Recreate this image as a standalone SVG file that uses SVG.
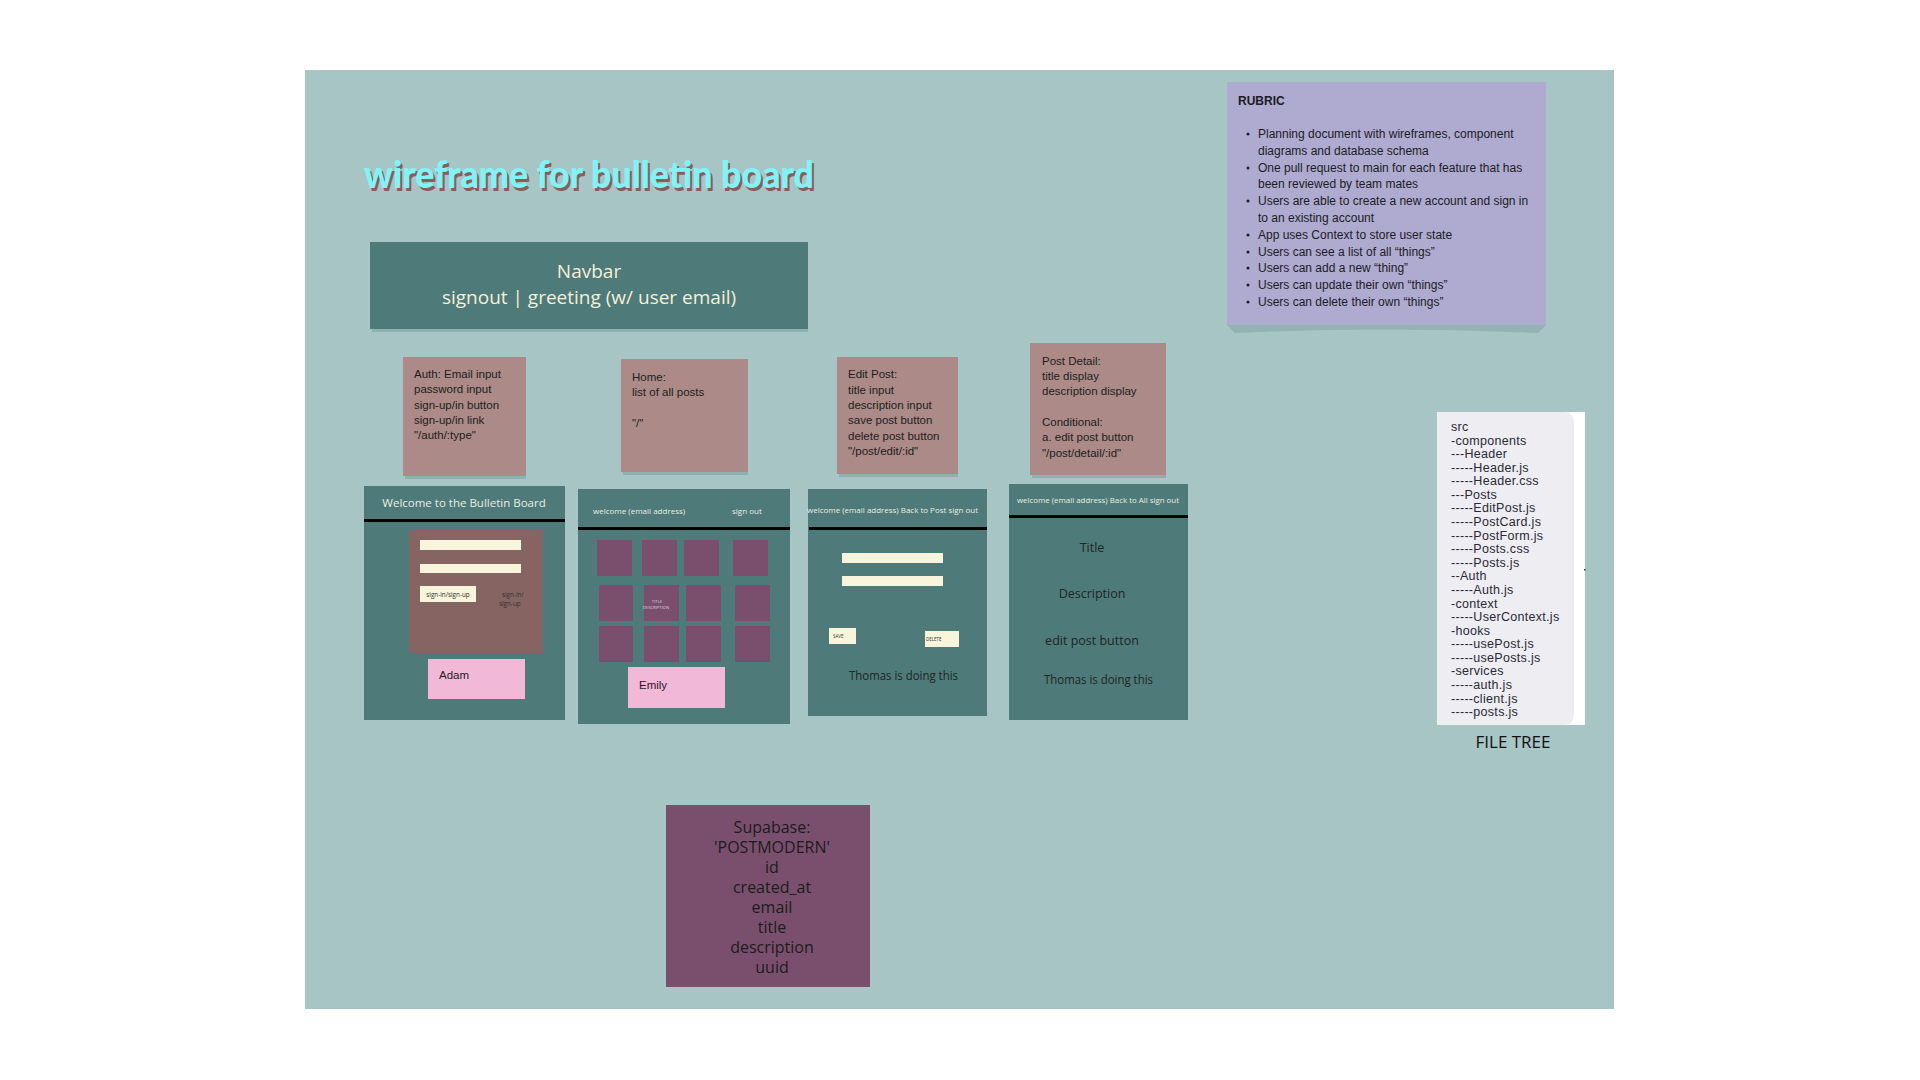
<svg xmlns="http://www.w3.org/2000/svg" width="1920" height="1080" viewBox="0 0 1920 1080">
<style>
.bg{fill:#a8c5c5}
.frame{fill:#4e7a79}
.note{fill:#ab8a87}
.cream{fill:#f8f5dc}
.pink{fill:#f2b8d8}
.purple{fill:#7a4f6d}
.bar{fill:#000}
.shadow{fill:#8fb0b0}
.nt{font-family:"Liberation Sans",Arial,sans-serif;font-size:11.5px;fill:#1e1e1e}
.os{font-family:"Open Sans","Liberation Sans",sans-serif}
.hdr{font-family:"Open Sans","Liberation Sans",sans-serif;font-size:8px;fill:#e9eee4}
.dark{font-family:"Open Sans","Liberation Sans",sans-serif;font-size:12.5px;fill:#1f2626}
.tree{font-family:"Liberation Sans",Arial,sans-serif;font-size:12.5px;letter-spacing:0.3px;fill:#2a2a35}
.rub{font-family:"Liberation Sans",Arial,sans-serif;font-size:12px;fill:#1c1c24}
</style>
<rect x="0" y="0" width="1920" height="1080" fill="#ffffff"/>
<rect class="bg" x="305" y="70" width="1309" height="939"/>

<g id="title">
<text x="366" y="191" font-family="Lato,'Open Sans',sans-serif" font-weight="900" font-size="37" fill="#8a5c5c" textLength="450" lengthAdjust="spacingAndGlyphs">wireframe for bulletin board</text>
<text x="364" y="188" font-family="Lato,'Open Sans',sans-serif" font-weight="900" font-size="37" fill="#80f3f6" textLength="450" lengthAdjust="spacingAndGlyphs">wireframe for bulletin board</text>
</g>

<g id="navbar">
<rect class="shadow" x="372" y="329" width="436" height="3"/>
<rect class="frame" x="370" y="242" width="438" height="87"/>
<text class="os" x="589" y="278" font-size="19" fill="#f5efd6" text-anchor="middle">Navbar</text>
<text class="os" x="589" y="304" font-size="19" fill="#f5efd6" text-anchor="middle">signout | greeting (w/ user email)</text>
</g>

<g id="rubric">
<path d="M1227 325 L1546 325 L1538 333 Q1386 326 1235 333 Z" fill="#93b2b3"/>
<rect x="1227" y="82" width="319" height="243" fill="#aeaad0"/>
<text class="rub" x="1238" y="105" font-weight="bold">RUBRIC</text>
<g class="rub">
<text x="1258" y="138">Planning document with wireframes, component</text>
<text x="1258" y="155">diagrams and database schema</text>
<text x="1258" y="172">One pull request to main for each feature that has</text>
<text x="1258" y="188">been reviewed by team mates</text>
<text x="1258" y="205">Users are able to create a new account and sign in</text>
<text x="1258" y="222">to an existing account</text>
<text x="1258" y="239">App uses Context to store user state</text>
<text x="1258" y="256">Users can see a list of all “things”</text>
<text x="1258" y="272">Users can add a new “thing”</text>
<text x="1258" y="289">Users can update their own “things”</text>
<text x="1258" y="306">Users can delete their own “things”</text>
</g>
<g fill="#1c1c24">
<circle cx="1248" cy="134" r="1.5"/><circle cx="1248" cy="168" r="1.5"/><circle cx="1248" cy="201" r="1.5"/><circle cx="1248" cy="235" r="1.5"/><circle cx="1248" cy="252" r="1.5"/><circle cx="1248" cy="268" r="1.5"/><circle cx="1248" cy="285" r="1.5"/><circle cx="1248" cy="302" r="1.5"/>
</g>
</g>

<g id="filetree">
<rect x="1437" y="412" width="148" height="313" fill="#ffffff"/>
<path d="M1437 412 L1564 412 Q1574 412 1574 424 L1574 713 Q1574 725 1564 725 L1437 725 Z" fill="#ededf2"/>
<g class="tree">
<text x="1451" y="431">src</text>
<text x="1451" y="445">-components</text>
<text x="1451" y="458">---Header</text>
<text x="1451" y="472">-----Header.js</text>
<text x="1451" y="485">-----Header.css</text>
<text x="1451" y="499">---Posts</text>
<text x="1451" y="512">-----EditPost.js</text>
<text x="1451" y="526">-----PostCard.js</text>
<text x="1451" y="540">-----PostForm.js</text>
<text x="1451" y="553">-----Posts.css</text>
<text x="1451" y="567">-----Posts.js</text>
<text x="1451" y="580">--Auth</text>
<text x="1451" y="594">-----Auth.js</text>
<text x="1451" y="608">-context</text>
<text x="1451" y="621">-----UserContext.js</text>
<text x="1451" y="635">-hooks</text>
<text x="1451" y="648">-----usePost.js</text>
<text x="1451" y="662">-----usePosts.js</text>
<text x="1451" y="675">-services</text>
<text x="1451" y="689">-----auth.js</text>
<text x="1451" y="703">-----client.js</text>
<text x="1451" y="716">-----posts.js</text>
</g>
<rect x="1584" y="569" width="1.5" height="1.5" fill="#333"/>
<text class="os" x="1513" y="748" font-size="17" fill="#111" text-anchor="middle">FILE TREE</text>
</g>

<g id="note-auth">
<rect class="shadow" x="405" y="476" width="121" height="3"/>
<rect class="note" x="403" y="357" width="123" height="119"/>
<g class="nt">
<text x="414" y="378">Auth: Email input</text>
<text x="414" y="393">password input</text>
<text x="414" y="409">sign-up/in button</text>
<text x="414" y="424">sign-up/in link</text>
<text x="414" y="439">"/auth/:type"</text>
</g>
</g>

<g id="note-home">
<rect class="shadow" x="623" y="472" width="125" height="3"/>
<rect class="note" x="621" y="359" width="127" height="113"/>
<g class="nt">
<text x="632" y="381">Home:</text>
<text x="632" y="396">list of all posts</text>
<text x="632" y="427">"/"</text>
</g>
</g>

<g id="note-edit">
<rect class="shadow" x="839" y="474" width="119" height="3"/>
<rect class="note" x="837" y="357" width="121" height="117"/>
<g class="nt">
<text x="848" y="378">Edit Post:</text>
<text x="848" y="394">title input</text>
<text x="848" y="409">description input</text>
<text x="848" y="424">save post button</text>
<text x="848" y="440">delete post button</text>
<text x="848" y="455">"/post/edit/:id"</text>
</g>
</g>

<g id="note-detail">
<rect class="shadow" x="1032" y="475" width="134" height="3"/>
<rect class="note" x="1030" y="343" width="136" height="132"/>
<g class="nt">
<text x="1042" y="365">Post Detail:</text>
<text x="1042" y="380">title display</text>
<text x="1042" y="395">description display</text>
<text x="1042" y="426">Conditional:</text>
<text x="1042" y="441">a. edit post button</text>
<text x="1042" y="457">"/post/detail/:id"</text>
</g>
</g>

<g id="wf-auth">
<rect class="frame" x="364" y="486" width="201" height="234"/>
<text class="os" x="464" y="507" font-size="11.5" fill="#e9eee4" text-anchor="middle">Welcome to the Bulletin Board</text>
<rect class="bar" x="364" y="519" width="201" height="3"/>
<rect x="409" y="530" width="134" height="123" fill="#866462"/>
<rect class="cream" x="420" y="540" width="101" height="10"/>
<rect class="cream" x="420" y="564" width="101" height="9"/>
<rect class="cream" x="420" y="586" width="56" height="16"/>
<text class="os" x="448" y="597" font-size="6.3" fill="#333" text-anchor="middle">sign-in/sign-up</text>
<text class="os" x="502" y="597" font-size="6.3" fill="#333">sign-in/</text>
<text class="os" x="499" y="606" font-size="6.3" fill="#333">sign-up</text>
<rect class="pink" x="428" y="659" width="97" height="40"/>
<text x="439" y="679" font-family="'Liberation Sans',Arial,sans-serif" font-size="11.5" fill="#1e1e1e">Adam</text>
</g>

<g id="wf-home">
<rect class="frame" x="578" y="489" width="212" height="235"/>
<text class="hdr" x="593" y="514">welcome (email address)</text>
<text class="hdr" x="732" y="514">sign out</text>
<rect class="bar" x="578" y="527" width="212" height="3"/>
<g class="purple">
<rect x="597" y="540" width="35" height="36"/><rect x="642" y="540" width="35" height="36"/><rect x="684" y="540" width="35" height="36"/><rect x="733" y="540" width="35" height="36"/>
<rect x="599" y="585" width="34" height="36"/><rect x="644" y="585" width="35" height="36"/><rect x="686" y="585" width="35" height="36"/><rect x="735" y="585" width="35" height="36"/>
<rect x="599" y="626" width="34" height="36"/><rect x="644" y="626" width="35" height="36"/><rect x="686" y="626" width="35" height="36"/><rect x="735" y="626" width="35" height="36"/>
</g>
<text class="os" x="657" y="603" font-size="4.2" fill="#d8cde0" text-anchor="middle">TITLE</text>
<text class="os" x="656" y="609" font-size="4.2" fill="#d8cde0" text-anchor="middle">DESCRIPTION</text>
<rect class="pink" x="628" y="667" width="97" height="41"/>
<text x="639" y="689" font-family="'Liberation Sans',Arial,sans-serif" font-size="11.5" fill="#1e1e1e">Emily</text>
</g>

<g id="wf-edit">
<rect class="frame" x="808" y="489" width="179" height="227"/>
<text class="hdr" x="807" y="513" font-size="7.6" textLength="171" lengthAdjust="spacingAndGlyphs">welcome (email address)  Back to Post   sign out</text>
<rect class="bar" x="809" y="527" width="178" height="3"/>
<rect class="cream" x="842" y="553" width="101" height="10"/>
<rect class="cream" x="842" y="576" width="101" height="10"/>
<rect class="cream" x="829" y="628" width="27" height="16"/>
<text class="os" x="833" y="638" font-size="4.5" fill="#333">SAVE</text>
<rect class="cream" x="925" y="631" width="34" height="16"/>
<text class="os" x="926" y="641" font-size="4.5" fill="#333">DELETE</text>
<text class="dark" x="849" y="680" textLength="109" lengthAdjust="spacingAndGlyphs">Thomas is doing this</text>
</g>

<g id="wf-detail">
<rect class="frame" x="1009" y="484" width="179" height="236"/>
<text class="hdr" x="1098" y="503" font-size="7.6" text-anchor="middle" textLength="162" lengthAdjust="spacingAndGlyphs">welcome (email address)  Back to All  sign out</text>
<rect class="bar" x="1009" y="515" width="179" height="3"/>
<text class="dark" x="1092" y="552" text-anchor="middle">Title</text>
<text class="dark" x="1092" y="598" text-anchor="middle">Description</text>
<text class="dark" x="1092" y="645" text-anchor="middle">edit post button</text>
<text class="dark" x="1044" y="684" textLength="109" lengthAdjust="spacingAndGlyphs">Thomas is doing this</text>
</g>

<g id="supabase">
<rect class="purple" x="666" y="805" width="204" height="182"/>
<g class="os" font-size="16" fill="#1c1c1c" text-anchor="middle">
<text x="772" y="833">Supabase:</text>
<text x="772" y="853">'POSTMODERN'</text>
<text x="772" y="873">id</text>
<text x="772" y="893">created_at</text>
<text x="772" y="913">email</text>
<text x="772" y="933">title</text>
<text x="772" y="953">description</text>
<text x="772" y="973">uuid</text>
</g>
</g>

<g id="connectors"></g>
</svg>
